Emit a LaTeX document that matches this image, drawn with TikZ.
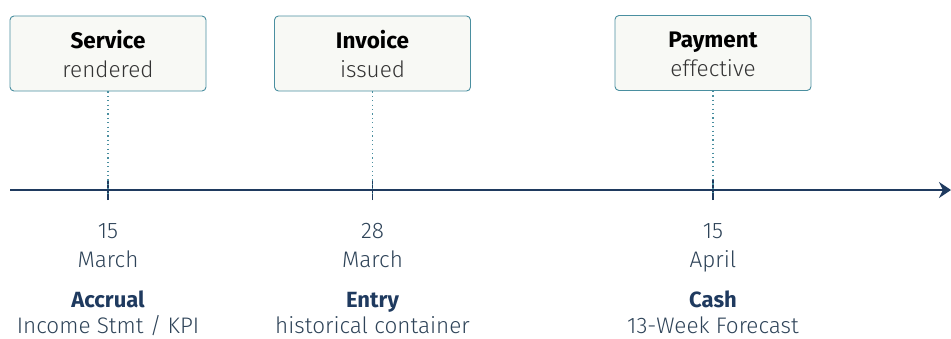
\documentclass[tikz,border=0pt]{standalone}
\usepackage{fontspec}
\setmainfont{Fira Sans}
\newfontfamily\lightfont{Fira Sans Light}
\usetikzlibrary{arrows.meta}
\definecolor{navy}{HTML}{1F3A5F}
\definecolor{tealline}{HTML}{4A8FA0}
\definecolor{boxfill}{HTML}{F8F9F5}
\definecolor{greytext}{HTML}{333333}
\definecolor{datetext}{HTML}{2E4358}
\tikzset{
  x=1pt, y=-1pt,
  event/.style={draw=tealline, line width=0.9pt, fill=boxfill, rounded corners=4pt,
    minimum width=196pt, minimum height=75pt},
  headtxt/.style={anchor=base, inner sep=0pt, text=black, font=\bfseries\fontsize{22.5}{27}\selectfont},
  subtxt/.style={anchor=base, inner sep=0pt, text=greytext, font=\lightfont\fontsize{22.5}{27}\selectfont},
  datetxt/.style={anchor=base, inner sep=0pt, text=datetext, font=\lightfont\fontsize{22.5}{27}\selectfont},
  roletxt/.style={anchor=base, inner sep=0pt, text=navy, font=\bfseries\fontsize{22}{27}\selectfont},
  guide/.style={draw=tealline, line width=1.2pt, dash pattern=on 1.2pt off 3.2pt},
  tick/.style={draw=navy, line width=1.5pt},
}
\begin{document}
\begin{tikzpicture}
\useasboundingbox (0,0) rectangle (951,338);

% event boxes
\node[event] (svc) at (108,53.5) {};
\node[event] (inv) at (372.5,53.5) {};
\node[event] (pay) at (713,53) {};

\node[headtxt] (svch) at (108,48) {Service};
\node[subtxt]  (svcs) at (108,77) {rendered};
\node[headtxt] (invh) at (372.5,48) {Invoice};
\node[subtxt]  (invs) at (372.5,77) {issued};
\node[headtxt] (payh) at (713,47) {Payment};
\node[subtxt]  (pays) at (713,76.5) {effective};

% timeline
\coordinate (tstart) at (10,190);
\coordinate (tend) at (951,190);
\draw[navy, line width=2pt, -{Stealth[length=12pt,width=16pt,inset=4pt]}] (tstart) -- (tend);

% ticks on the timeline
\coordinate (t1) at (108,190);
\coordinate (t2) at (372.5,190);
\coordinate (t3) at (713,190);
\foreach \t in {t1,t2,t3}{
  \draw[tick] ([yshift=-10pt]\t) -- ([yshift=10pt]\t);
}

% dotted guides from boxes to ticks
\draw[guide] (svc.south) -- ([yshift=-6pt]t1);
\draw[guide] (inv.south) -- ([yshift=-6pt]t2);
\draw[guide] (pay.south) -- ([yshift=-6pt]t3);

% dates
\node[datetxt] (d1a) at (108,238.5) {15};
\node[datetxt] (d1b) at (108,267) {March};
\node[datetxt] (d2a) at (372.5,238.5) {28};
\node[datetxt] (d2b) at (372.5,267) {March};
\node[datetxt] (d3a) at (713,238.5) {15};
\node[datetxt] (d3b) at (713,267) {April};

% accounting views
\node[roletxt] (r1a) at (108,307) {Accrual};
\node[datetxt] (r1b) at (108,333) {Income Stmt / KPI};
\node[roletxt] (r2a) at (372.5,307) {Entry};
\node[datetxt] (r2b) at (372.5,333) {historical container};
\node[roletxt] (r3a) at (713,307) {Cash};
\node[datetxt] (r3b) at (713,333) {13-Week Forecast};
\end{tikzpicture}
\end{document}
